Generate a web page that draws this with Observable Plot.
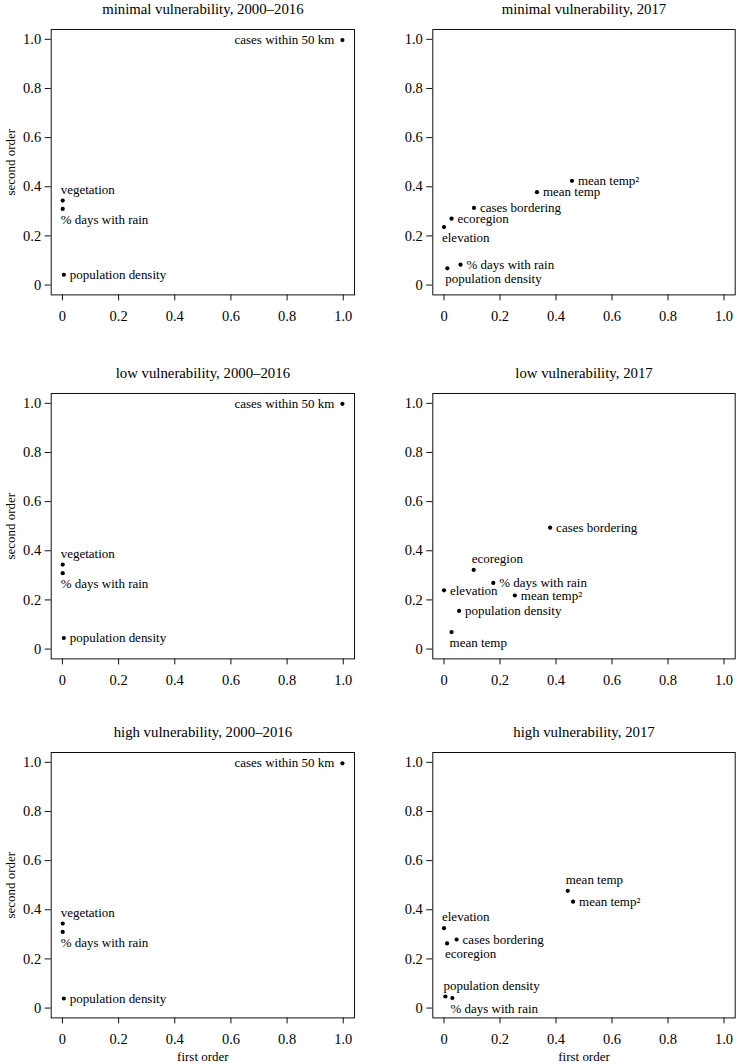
<!DOCTYPE html>
<html>
<head>
<meta charset="utf-8">
<script src="https://cdn.jsdelivr.net/npm/d3@7"></script>
<script src="https://cdn.jsdelivr.net/npm/@observablehq/plot@0.6"></script>
<style>
  html, body { margin: 0; padding: 0; background: #fff; }
  #wrap { position: relative; width: 736px; height: 1064px; overflow: hidden; background: #fff; }
  #wrap svg { position: absolute; }
</style>
</head>
<body>
<div id="wrap"></div>
<script>
// ---------- data ----------
const panelTitles = [
  "minimal vulnerability, 2000–2016",
  "minimal vulnerability, 2017",
  "low vulnerability, 2000–2016",
  "low vulnerability, 2017",
  "high vulnerability, 2000–2016",
  "high vulnerability, 2017"
];

const tickValues = [0, 0.2, 0.4, 0.6, 0.8, 1.0];
const tickLabels = ["0", "0.2", "0.4", "0.6", "0.8", "1.0"];
const xAxisTitle = "first order";
const yAxisTitle = "second order";

// minimal vulnerability, 2000–2016
const minimalPastVars = ["cases within 50 km", "vegetation", "% days with rain", "population density"];
const minimalPastFirst = [0.997, 0.001, 0.001, 0.005];
const minimalPastSecond = [0.997, 0.344, 0.310, 0.042];

// minimal vulnerability, 2017
const minimal2017Vars = ["mean temp²", "mean temp", "cases bordering", "ecoregion", "elevation", "% days with rain", "population density"];
const minimal2017First = [0.457, 0.332, 0.107, 0.027, 0.000, 0.059, 0.012];
const minimal2017Second = [0.424, 0.378, 0.314, 0.270, 0.236, 0.083, 0.068];

// low vulnerability, 2000–2016
const lowPastVars = ["cases within 50 km", "vegetation", "% days with rain", "population density"];
const lowPastFirst = [0.997, 0.001, 0.001, 0.005];
const lowPastSecond = [0.998, 0.344, 0.309, 0.045];

// low vulnerability, 2017
const low2017Vars = ["cases bordering", "ecoregion", "% days with rain", "elevation", "mean temp²", "population density", "mean temp"];
const low2017First = [0.379, 0.106, 0.176, 0.000, 0.253, 0.054, 0.027];
const low2017Second = [0.494, 0.322, 0.269, 0.239, 0.218, 0.155, 0.069];

// high vulnerability, 2000–2016
const highPastVars = ["cases within 50 km", "vegetation", "% days with rain", "population density"];
const highPastFirst = [0.997, 0.001, 0.001, 0.005];
const highPastSecond = [0.996, 0.344, 0.310, 0.039];

// high vulnerability, 2017
const high2017Vars = ["mean temp", "mean temp²", "elevation", "cases bordering", "ecoregion", "population density", "% days with rain"];
const high2017First = [0.442, 0.461, 0.000, 0.045, 0.011, 0.005, 0.030];
const high2017Second = [0.477, 0.433, 0.325, 0.279, 0.263, 0.047, 0.041];

// ---------- label placement (style) ----------
const labelSides = [
  ["left", "above", "below", "right"],
  ["right", "right", "right", "right", "below", "right", "below"],
  ["left", "above", "below", "right"],
  ["right", "above", "right", "right", "right", "right", "below"],
  ["left", "above", "below", "right"],
  ["above", "right", "above", "right", "below", "above", "below"]
];

const panelSeries = [
  [minimalPastVars, minimalPastFirst, minimalPastSecond],
  [minimal2017Vars, minimal2017First, minimal2017Second],
  [lowPastVars, lowPastFirst, lowPastSecond],
  [low2017Vars, low2017First, low2017Second],
  [highPastVars, highPastFirst, highPastSecond],
  [high2017Vars, high2017First, high2017Second]
];

// ---------- layout ----------
const colLeft = [0, 368];
const mLeft = [50.7, 64.3];
const mRight = [14, 1.3];
const frameTop = [29, 393.3, 752.3];
const frameH = 265.4;
const mTop = 29, mBottom = 45;
const FONT = "'Liberation Serif', 'Times New Roman', serif";

const fmt = d => tickLabels[tickValues.findIndex(t => Math.abs(t - d) < 1e-9)];

const wrap = document.getElementById("wrap");

panelSeries.forEach(([vars, fx, sy], i) => {
  const r = Math.floor(i / 2), c = i % 2;
  const rows = vars.map((v, k) => ({name: v, first: fx[k], second: sy[k], side: labelSides[i][k]}));
  const sub = s => rows.filter(d => d.side === s);
  const marks = [
    Plot.frame({stroke: "#111", strokeWidth: 1}),
    Plot.axisX({ticks: tickValues, tickFormat: fmt, tickSize: 6, tickPadding: 10, fontSize: 14.5, label: null, stroke: "#111"}),
    Plot.axisY({ticks: tickValues, tickFormat: fmt, tickSize: 6, tickPadding: 4, fontSize: 14.5, label: null, stroke: "#111"}),
    Plot.dot(rows, {x: "first", y: "second", r: 2.1, fill: "#000", stroke: null}),
    Plot.text(sub("right"), {x: "first", y: "second", text: "name", textAnchor: "start", dx: 6, fontSize: 13, fill: "#000"}),
    Plot.text(sub("left"), {x: "first", y: "second", text: "name", textAnchor: "end", dx: -8, fontSize: 13, fill: "#000"}),
    Plot.text(sub("above"), {x: "first", y: "second", text: "name", textAnchor: "start", dx: -2, dy: -11, fontSize: 13, fill: "#000"}),
    Plot.text(sub("below"), {x: "first", y: "second", text: "name", textAnchor: "start", dx: -2, dy: 10.5, fontSize: 13, fill: "#000"}),
    Plot.text([panelTitles[i]], {frameAnchor: "top", lineAnchor: "middle", textAnchor: "middle", dy: -20, fontSize: 14.8, fill: "#000"})
  ];
  if (c === 0) {
    marks.push(Plot.text([yAxisTitle], {frameAnchor: "left", textAnchor: "middle", lineAnchor: "middle", rotate: -90, dx: -40.5, fontSize: 13, fill: "#000"}));
  }
  if (r === 2) {
    marks.push(Plot.text([xAxisTitle], {frameAnchor: "bottom", textAnchor: "middle", lineAnchor: "middle", dy: 38.5, fontSize: 13, fill: "#000"}));
  }
  const svg = Plot.plot({
    width: 368,
    height: mTop + frameH + mBottom,
    marginLeft: mLeft[c],
    marginRight: mRight[c],
    marginTop: mTop,
    marginBottom: mBottom,
    x: {domain: [-0.04, 1.04]},
    y: {domain: [-0.04, 1.04]},
    style: {fontFamily: FONT, fontSize: "14.5px", color: "#000", background: "transparent", overflow: "visible"},
    marks
  });
  svg.style.left = colLeft[c] + "px";
  svg.style.top = (frameTop[r] - mTop) + "px";
  wrap.appendChild(svg);
});
</script>
</body>
</html>
